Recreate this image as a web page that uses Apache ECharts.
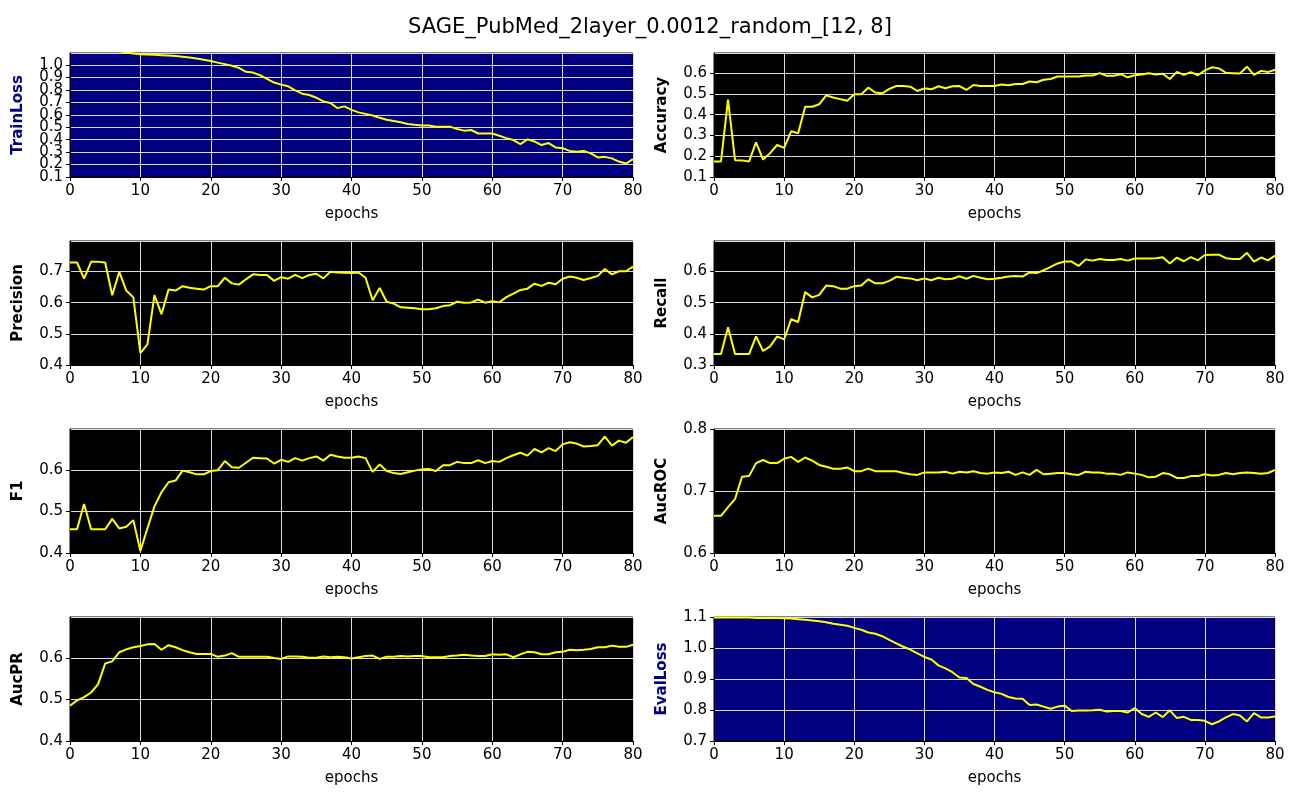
<!DOCTYPE html>
<html>
<head>
<meta charset="UTF-8">
<title>SAGE_PubMed_2layer_0.0012_random_[12, 8]</title>
<script src="https://cdn.jsdelivr.net/npm/echarts@6.0.0/dist/echarts.min.js"></script>
<style>
  body { margin: 0; padding: 0; background: #fff; }
  #main { width: 1300px; height: 800px; }
</style>
</head>
<body>
<div id="main"></div>
<script>
// values read per epoch (0..80)
const trainLoss = [1.130, 1.130, 1.130, 1.130, 1.130, 1.128, 1.124, 1.113, 1.101, 1.094,
  1.088, 1.085, 1.083, 1.080, 1.077, 1.073, 1.067, 1.061, 1.053, 1.043,
  1.033, 1.020, 1.008, 0.995, 0.978, 0.946, 0.940, 0.919, 0.890, 0.860,
  0.843, 0.830, 0.797, 0.770, 0.760, 0.738, 0.708, 0.695, 0.654, 0.668,
  0.640, 0.620, 0.608, 0.595, 0.576, 0.560, 0.550, 0.540, 0.527, 0.520,
  0.514, 0.514, 0.505, 0.505, 0.505, 0.486, 0.473, 0.478, 0.450, 0.450,
  0.450, 0.432, 0.413, 0.397, 0.365, 0.403, 0.386, 0.357, 0.373, 0.338,
  0.332, 0.310, 0.303, 0.310, 0.290, 0.257, 0.262, 0.250, 0.224, 0.208,
  0.243];
const accuracy = [0.175, 0.175, 0.473, 0.181, 0.180, 0.175, 0.267, 0.184, 0.215, 0.254,
  0.240, 0.320, 0.311, 0.438, 0.438, 0.450, 0.493, 0.483, 0.475, 0.467,
  0.498, 0.498, 0.530, 0.507, 0.503, 0.524, 0.538, 0.538, 0.535, 0.514,
  0.527, 0.522, 0.537, 0.527, 0.537, 0.538, 0.519, 0.543, 0.538, 0.538,
  0.538, 0.545, 0.542, 0.548, 0.548, 0.560, 0.556, 0.568, 0.572, 0.584,
  0.584, 0.584, 0.584, 0.589, 0.589, 0.600, 0.587, 0.587, 0.595, 0.580,
  0.590, 0.594, 0.600, 0.594, 0.597, 0.572, 0.606, 0.592, 0.605, 0.590,
  0.613, 0.628, 0.623, 0.602, 0.600, 0.598, 0.631, 0.592, 0.611, 0.605,
  0.616];
const precision = [0.729, 0.729, 0.677, 0.731, 0.731, 0.729, 0.624, 0.699, 0.639, 0.617,
  0.438, 0.466, 0.624, 0.563, 0.642, 0.639, 0.653, 0.648, 0.645, 0.642,
  0.653, 0.653, 0.680, 0.662, 0.658, 0.675, 0.691, 0.689, 0.689, 0.670,
  0.682, 0.677, 0.689, 0.679, 0.689, 0.693, 0.678, 0.699, 0.697, 0.696,
  0.695, 0.697, 0.680, 0.608, 0.647, 0.603, 0.597, 0.585, 0.584, 0.582,
  0.579, 0.579, 0.582, 0.589, 0.592, 0.603, 0.600, 0.601, 0.610, 0.600,
  0.605, 0.601, 0.618, 0.629, 0.641, 0.645, 0.661, 0.654, 0.664, 0.659,
  0.677, 0.684, 0.680, 0.673, 0.679, 0.686, 0.708, 0.691, 0.701, 0.701,
  0.716];
const recall = [0.335, 0.335, 0.421, 0.335, 0.335, 0.335, 0.392, 0.345, 0.360, 0.392,
  0.382, 0.447, 0.438, 0.534, 0.517, 0.525, 0.555, 0.553, 0.545, 0.545,
  0.553, 0.555, 0.575, 0.562, 0.562, 0.570, 0.583, 0.580, 0.578, 0.572,
  0.578, 0.572, 0.580, 0.575, 0.577, 0.585, 0.577, 0.586, 0.580, 0.575,
  0.577, 0.580, 0.584, 0.586, 0.584, 0.597, 0.595, 0.604, 0.615, 0.626,
  0.632, 0.632, 0.618, 0.639, 0.635, 0.640, 0.637, 0.637, 0.640, 0.635,
  0.642, 0.642, 0.642, 0.643, 0.646, 0.626, 0.645, 0.633, 0.646, 0.636,
  0.653, 0.654, 0.654, 0.643, 0.640, 0.640, 0.660, 0.632, 0.645, 0.636,
  0.651];
const f1 = [0.457, 0.457, 0.518, 0.457, 0.457, 0.457, 0.482, 0.459, 0.463, 0.479,
  0.405, 0.459, 0.512, 0.546, 0.570, 0.574, 0.598, 0.594, 0.589, 0.589,
  0.597, 0.599, 0.621, 0.606, 0.605, 0.617, 0.629, 0.628, 0.627, 0.615,
  0.624, 0.619, 0.628, 0.622, 0.628, 0.632, 0.622, 0.636, 0.632, 0.629,
  0.629, 0.632, 0.628, 0.595, 0.613, 0.597, 0.592, 0.590, 0.594, 0.598,
  0.601, 0.602, 0.597, 0.611, 0.611, 0.619, 0.616, 0.616, 0.623, 0.616,
  0.621, 0.619, 0.628, 0.635, 0.641, 0.634, 0.650, 0.642, 0.652, 0.645,
  0.661, 0.666, 0.663, 0.656, 0.657, 0.659, 0.680, 0.658, 0.670, 0.665,
  0.679];
const aucRoc = [0.660, 0.660, 0.674, 0.687, 0.723, 0.724, 0.745, 0.750, 0.745, 0.745,
  0.752, 0.755, 0.747, 0.754, 0.749, 0.742, 0.739, 0.736, 0.736, 0.738,
  0.732, 0.732, 0.736, 0.732, 0.732, 0.732, 0.732, 0.729, 0.727, 0.726,
  0.730, 0.730, 0.730, 0.731, 0.728, 0.731, 0.730, 0.732, 0.729, 0.728,
  0.730, 0.729, 0.731, 0.726, 0.730, 0.726, 0.734, 0.727, 0.728, 0.729,
  0.729, 0.727, 0.726, 0.731, 0.730, 0.730, 0.728, 0.728, 0.726, 0.730,
  0.728, 0.726, 0.722, 0.723, 0.729, 0.727, 0.721, 0.721, 0.724, 0.724,
  0.727, 0.725, 0.726, 0.729, 0.727, 0.729, 0.730, 0.729, 0.728, 0.729,
  0.734];
const aucPr = [0.485, 0.498, 0.506, 0.517, 0.537, 0.587, 0.592, 0.614, 0.621, 0.626,
  0.629, 0.633, 0.634, 0.620, 0.631, 0.626, 0.619, 0.614, 0.610, 0.610,
  0.610, 0.603, 0.606, 0.612, 0.603, 0.603, 0.603, 0.603, 0.603, 0.600,
  0.598, 0.604, 0.604, 0.603, 0.601, 0.601, 0.604, 0.602, 0.603, 0.602,
  0.599, 0.602, 0.605, 0.606, 0.598, 0.603, 0.603, 0.605, 0.604, 0.605,
  0.605, 0.602, 0.602, 0.602, 0.605, 0.606, 0.608, 0.606, 0.605, 0.605,
  0.609, 0.608, 0.609, 0.602, 0.609, 0.615, 0.614, 0.609, 0.609, 0.614,
  0.615, 0.620, 0.619, 0.620, 0.622, 0.626, 0.626, 0.630, 0.627, 0.627,
  0.632];
const evalLoss = [1.098, 1.098, 1.098, 1.098, 1.098, 1.098, 1.097, 1.097, 1.097, 1.097,
  1.096, 1.095, 1.093, 1.091, 1.089, 1.086, 1.083, 1.078, 1.075, 1.072,
  1.065, 1.059, 1.050, 1.046, 1.038, 1.026, 1.015, 1.004, 0.995, 0.983,
  0.971, 0.963, 0.944, 0.934, 0.922, 0.905, 0.903, 0.884, 0.875, 0.865,
  0.857, 0.852, 0.842, 0.837, 0.836, 0.816, 0.818, 0.811, 0.804, 0.811,
  0.814, 0.797, 0.798, 0.798, 0.799, 0.801, 0.795, 0.797, 0.797, 0.792,
  0.806, 0.787, 0.778, 0.792, 0.777, 0.799, 0.774, 0.778, 0.768, 0.768,
  0.765, 0.754, 0.763, 0.776, 0.787, 0.782, 0.763, 0.790, 0.776, 0.776,
  0.779];

const title = 'SAGE_PubMed_2layer_0.0012_random_[12, 8]';
const xTicks = [0, 10, 20, 30, 40, 50, 60, 70, 80];

// panel order: left column then right column, row by row
// dense: tick labels overlap in the original, so labels go on two stacked axes
const panels = [
  { name: 'TrainLoss', data: trainLoss, min: 0.1, max: 1.0976, bg: '#000080', nameColor: '#000080', dense: true },
  { name: 'Accuracy', data: accuracy, min: 0.1, max: 0.697, bg: '#000000', nameColor: '#000000' },
  { name: 'Precision', data: precision, min: 0.4, max: 0.798, bg: '#000000', nameColor: '#000000' },
  { name: 'Recall', data: recall, min: 0.3, max: 0.698, bg: '#000000', nameColor: '#000000' },
  { name: 'F1', data: f1, min: 0.4, max: 0.698, bg: '#000000', nameColor: '#000000' },
  { name: 'AucROC', data: aucRoc, min: 0.6, max: 0.8, bg: '#000000', nameColor: '#000000' },
  { name: 'AucPR', data: aucPr, min: 0.4, max: 0.699, bg: '#000000', nameColor: '#000000' },
  { name: 'EvalLoss', data: evalLoss, min: 0.7, max: 1.1, bg: '#000080', nameColor: '#000080' }
];

const font = 'DejaVu Sans';
const colLeft = [70, 714];
const colWidth = [563, 561];
const rowTop = [53, 241, 429, 617];
const plotH = 124;

function labelStyle(p, pick) {
  return {
    fontFamily: font, fontSize: 15, color: '#000', margin: 7,
    showMinLabel: true,
    showMaxLabel: Math.abs(p.max * 10 - Math.round(p.max * 10)) < 1e-6,
    hideOverlap: false,
    formatter: v => (pick(Math.round(v * 10)) ? v.toFixed(1) : '')
  };
}

const grids = [], xAxes = [], yAxes = [], series = [];
panels.forEach((p, i) => {
  const col = i % 2, row = Math.floor(i / 2);
  grids.push({
    left: colLeft[col], top: rowTop[row], width: colWidth[col], height: plotH,
    show: true, backgroundColor: p.bg, borderColor: '#000', borderWidth: 1
  });
  xAxes.push({
    gridIndex: i, type: 'value', min: xTicks[0], max: xTicks[xTicks.length - 1], interval: 10,
    name: 'epochs', nameLocation: 'middle', nameGap: 30,
    nameTextStyle: { fontFamily: font, fontSize: 15, color: '#000' },
    axisLine: { show: true, onZero: false, lineStyle: { color: '#000', width: 1 } },
    axisTick: { show: true, length: 4, lineStyle: { color: '#000' } },
    axisLabel: { fontFamily: font, fontSize: 15, color: '#000', margin: 7, showMinLabel: true, showMaxLabel: true },
    splitLine: { show: true, lineStyle: { color: '#dcdcdc', width: 1 } }
  });
  const yIndex = yAxes.length;
  yAxes.push({
    gridIndex: i, type: 'value', min: p.min, max: p.max, interval: 0.1,
    name: p.name, nameLocation: 'middle', nameGap: 44, nameRotate: 90,
    nameTextStyle: { fontFamily: font, fontSize: 15, fontWeight: 'bold', color: p.nameColor },
    axisLine: { show: true, lineStyle: { color: '#000', width: 1 } },
    axisTick: { show: true, length: 4, lineStyle: { color: '#000' } },
    axisLabel: labelStyle(p, k => !p.dense || k % 2 === 1),
    splitLine: { show: true, lineStyle: { color: '#dcdcdc', width: 1 } }
  });
  if (p.dense) {
    const second = labelStyle(p, k => k % 2 === 0);
    second.showMinLabel = false;
    yAxes.push({
      gridIndex: i, type: 'value', position: 'left', offset: 0,
      min: p.min, max: p.max, interval: 0.1,
      axisLine: { show: false }, axisTick: { show: false },
      axisLabel: second,
      splitLine: { show: false }
    });
  }
  series.push({
    type: 'line', xAxisIndex: i, yAxisIndex: yIndex,
    data: p.data.map((v, e) => [e, v]),
    showSymbol: false, clip: true, animation: false,
    lineStyle: { color: '#ffff00', width: 2 }
  });
});

const chart = echarts.init(document.getElementById('main'), null, { renderer: 'canvas' });
chart.setOption({
  animation: false,
  title: {
    text: title, left: 'center', top: 12,
    textStyle: { fontFamily: font, fontSize: 21, fontWeight: 'normal', color: '#000' }
  },
  grid: grids,
  xAxis: xAxes,
  yAxis: yAxes,
  series: series
});
</script>
</body>
</html>
